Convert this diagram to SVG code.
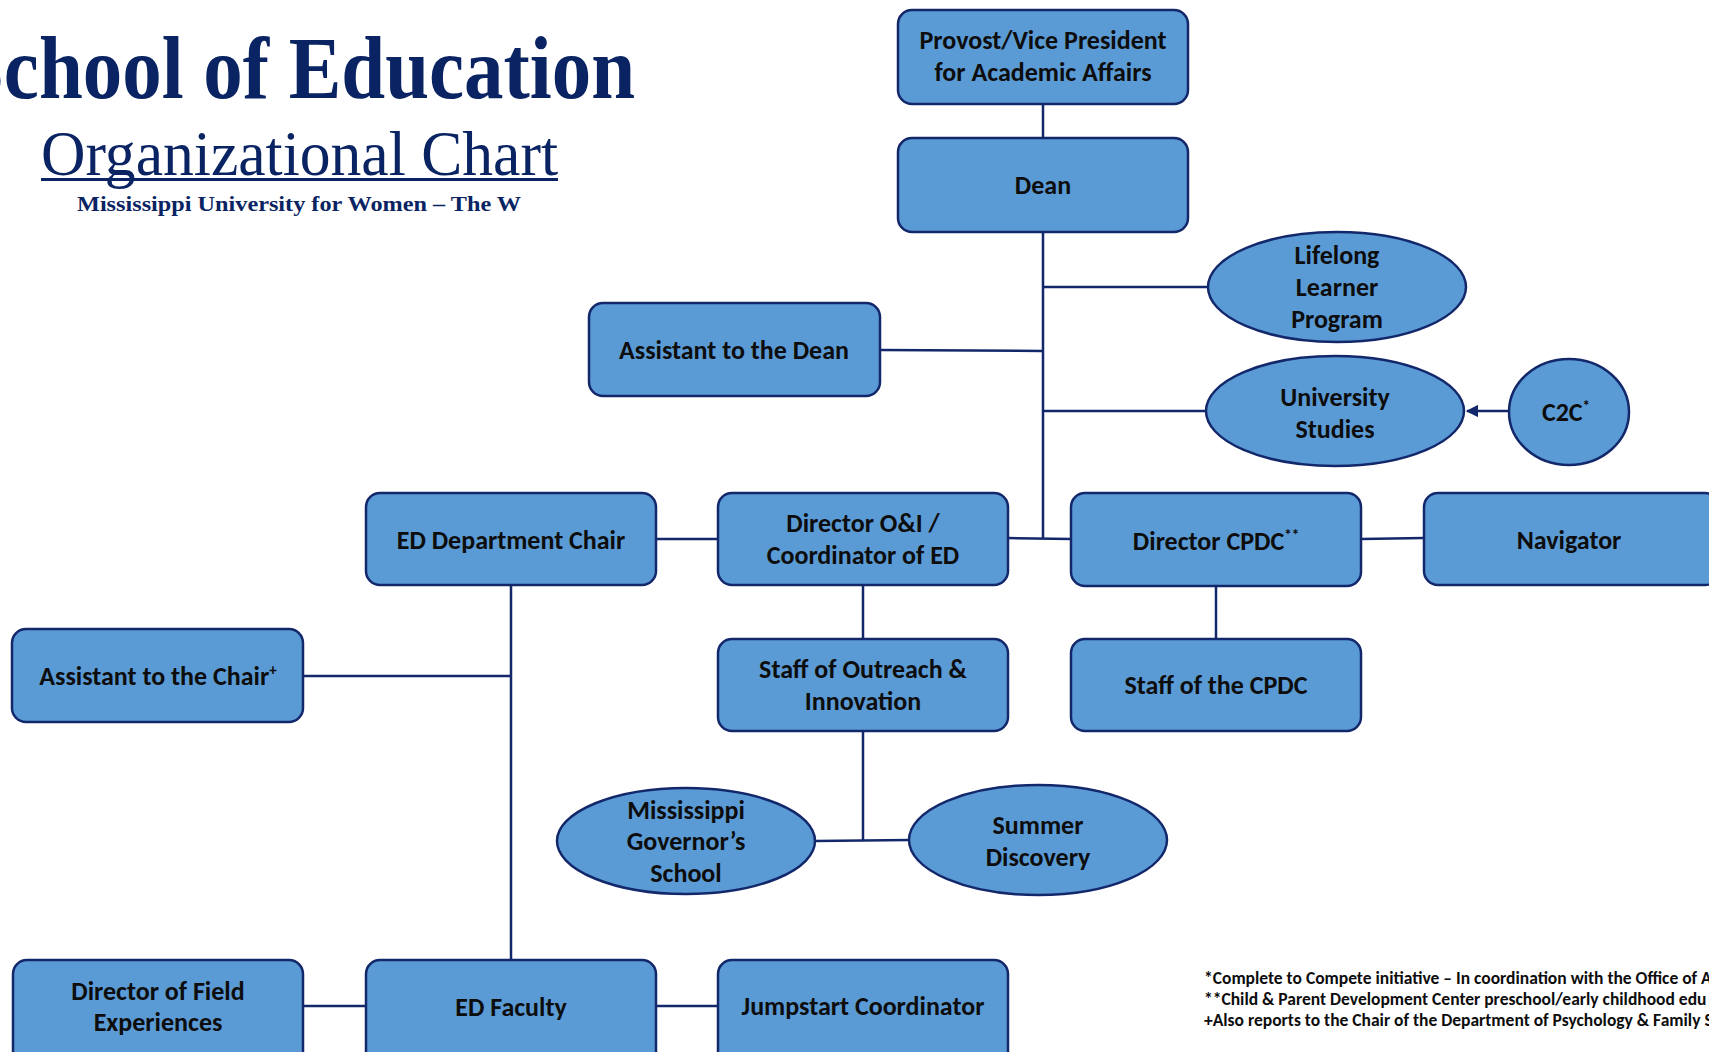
<svg xmlns="http://www.w3.org/2000/svg" width="1709" height="1052" viewBox="0 0 1709 1052">
<defs>
<style>
.box{fill:#5B9BD5;stroke:#13286B;stroke-width:2.5}
.t{font-family:Carlito,Lato,"Open Sans",sans-serif;font-weight:bold;font-size:26px;fill:#0D0D0D;text-anchor:middle}
.sup{font-size:15px}
.ln{stroke:#13286B;stroke-width:2.5;fill:none}
.ttl{font-family:"Liberation Serif","Times New Roman",serif;fill:#0A2463}
.fn{font-family:Carlito,Lato,"Open Sans",sans-serif;font-weight:bold;font-size:17.5px;fill:#0D0D0D}
</style>
<marker id="arr" viewBox="0 0 10 10" refX="9" refY="5" markerWidth="5" markerHeight="5" orient="auto-start-reverse">
<path d="M0,0 L10,5 L0,10 z" fill="#13286B"/>
</marker>
</defs>
<rect width="1709" height="1052" fill="#FFFFFF"/>

<g id="title">
<text class="ttl" x="-40" y="98" font-size="88" font-weight="bold" textLength="675" lengthAdjust="spacingAndGlyphs">School of Education</text>
<text class="ttl" x="41" y="175" font-size="64" textLength="517" lengthAdjust="spacingAndGlyphs">Organizational Chart</text>
<rect x="41" y="178" width="517" height="3" fill="#0A2463"/>
<text class="ttl" x="77" y="211" font-size="22" font-weight="bold" textLength="444" lengthAdjust="spacingAndGlyphs">Mississippi University for Women – The W</text>
</g>

<g id="connectors">
<line class="ln" x1="1043" y1="104" x2="1043" y2="138"/>
<line class="ln" x1="1043" y1="232" x2="1043" y2="539"/>
<line class="ln" x1="1043" y1="287" x2="1208" y2="287"/>
<line class="ln" x1="880" y1="350" x2="1043" y2="351"/>
<line class="ln" x1="1043" y1="411" x2="1206" y2="411"/>
<line class="ln" x1="1508" y1="411" x2="1467" y2="411" marker-end="url(#arr)"/>
<line class="ln" x1="656" y1="539" x2="718" y2="539"/>
<line class="ln" x1="1008" y1="538" x2="1071" y2="539"/>
<line class="ln" x1="1361" y1="539" x2="1424" y2="538"/>
<line class="ln" x1="863" y1="585" x2="863" y2="639"/>
<line class="ln" x1="1216" y1="586" x2="1216" y2="639"/>
<line class="ln" x1="863" y1="731" x2="863" y2="840"/>
<line class="ln" x1="815" y1="841" x2="910" y2="840"/>
<line class="ln" x1="511" y1="585" x2="511" y2="960"/>
<line class="ln" x1="303" y1="676" x2="511" y2="676"/>
<line class="ln" x1="303" y1="1006" x2="366" y2="1006"/>
<line class="ln" x1="656" y1="1006" x2="718" y2="1006"/>
</g>

<g id="provost"><rect class="box" x="898" y="10" width="290" height="94" rx="14"/>
<text class="t" x="1043" y="49">Provost/Vice President</text><text class="t" x="1043" y="81">for Academic Affairs</text></g>

<g id="dean"><rect class="box" x="898" y="138" width="290" height="94" rx="14"/>
<text class="t" x="1043" y="194">Dean</text></g>

<g id="lifelong"><ellipse class="box" cx="1337" cy="287" rx="129" ry="55"/>
<text class="t" x="1337" y="264">Lifelong</text><text class="t" x="1337" y="296">Learner</text><text class="t" x="1337" y="328">Program</text></g>

<g id="asst-dean"><rect class="box" x="589" y="303" width="291" height="93" rx="14"/>
<text class="t" x="734" y="359">Assistant to the Dean</text></g>

<g id="univ-studies"><ellipse class="box" cx="1335" cy="411" rx="129" ry="55"/>
<text class="t" x="1335" y="406">University</text><text class="t" x="1335" y="438">Studies</text></g>

<g id="c2c"><ellipse class="box" cx="1569" cy="412" rx="60" ry="53"/>
<text class="t" x="1566" y="421">C2C<tspan class="sup" dy="-10">*</tspan></text></g>

<g id="ed-chair"><rect class="box" x="366" y="493" width="290" height="92" rx="14"/>
<text class="t" x="511" y="549">ED Department Chair</text></g>

<g id="director-oi"><rect class="box" x="718" y="493" width="290" height="92" rx="14"/>
<text class="t" x="863" y="532">Director O&amp;I /</text><text class="t" x="863" y="564">Coordinator of ED</text></g>

<g id="director-cpdc"><rect class="box" x="1071" y="493" width="290" height="93" rx="14"/>
<text class="t" x="1216" y="550">Director CPDC<tspan class="sup" dy="-10">**</tspan></text></g>

<g id="navigator"><rect class="box" x="1424" y="493" width="295" height="92" rx="14"/>
<text class="t" x="1569" y="549">Navigator</text></g>

<g id="asst-chair"><rect class="box" x="12" y="629" width="291" height="93" rx="14"/>
<text class="t" x="158" y="685">Assistant to the Chair<tspan class="sup" dy="-10">+</tspan></text></g>

<g id="staff-oi"><rect class="box" x="718" y="639" width="290" height="92" rx="14"/>
<text class="t" x="863" y="678">Staff of Outreach &amp;</text><text class="t" x="863" y="710">Innovation</text></g>

<g id="staff-cpdc"><rect class="box" x="1071" y="639" width="290" height="92" rx="14"/>
<text class="t" x="1216" y="694">Staff of the CPDC</text></g>

<g id="gov-school"><ellipse class="box" cx="686" cy="841" rx="129" ry="53"/>
<text class="t" x="686" y="819">Mississippi</text><text class="t" x="686" y="850">Governor’s</text><text class="t" x="686" y="882">School</text></g>

<g id="summer"><ellipse class="box" cx="1038" cy="840" rx="129" ry="55"/>
<text class="t" x="1038" y="834">Summer</text><text class="t" x="1038" y="866">Discovery</text></g>

<g id="field"><rect class="box" x="13" y="960" width="290" height="110" rx="14"/>
<text class="t" x="158" y="1000">Director of Field</text><text class="t" x="158" y="1031">Experiences</text></g>

<g id="faculty"><rect class="box" x="366" y="960" width="290" height="110" rx="14"/>
<text class="t" x="511" y="1016">ED Faculty</text></g>

<g id="jumpstart"><rect class="box" x="718" y="960" width="290" height="110" rx="14"/>
<text class="t" x="863" y="1015">Jumpstart Coordinator</text></g>

<g id="footnotes">
<text class="fn" x="1204" y="984">*Complete to Compete initiative – In coordination with the Office of A</text>
<text class="fn" x="1204" y="1005">**Child &amp; Parent Development Center preschool/early childhood edu</text>
<text class="fn" x="1204" y="1026">+Also reports to the Chair of the Department of Psychology &amp; Family S</text>
</g>
</svg>
